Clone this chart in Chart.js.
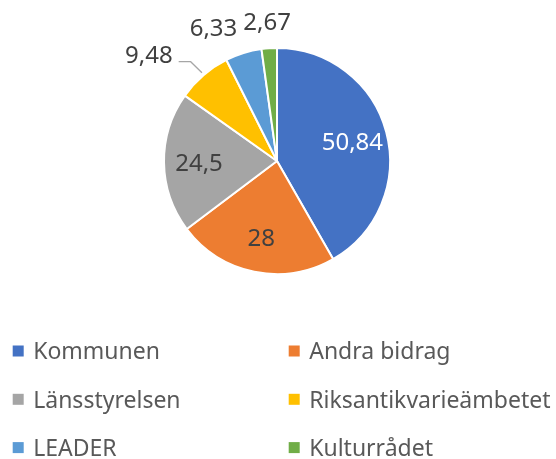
<!DOCTYPE html>
<html>
<head>
<meta charset="utf-8">
<script src="https://cdn.jsdelivr.net/npm/chart.js@4/dist/chart.umd.min.js"></script>
<style>
  html, body { margin: 0; padding: 0; background: #fff; }
  #wrap { position: relative; width: 556px; height: 459px; }
</style>
</head>
<body>
<div id="wrap"><canvas id="c" width="556" height="459"></canvas></div>
<script>
const categories = ["Kommunen", "Andra bidrag", "Länsstyrelsen", "Riksantikvarieämbetet", "LEADER", "Kulturrådet"];
const values = [50.84, 28, 24.5, 9.48, 6.33, 2.67];
const colors = ["#4472C4", "#ED7D31", "#A5A5A5", "#FFC000", "#5B9BD5", "#70AD47"];

const FONT = '"Noto Sans", "DejaVu Sans", sans-serif';
const fmt = v => String(v).replace('.', ',');

function brightness(hex) {
  const n = parseInt(hex.slice(1), 16);
  const r = (n >> 16) & 255, g = (n >> 8) & 255, b = n & 255;
  return (0.299 * r + 0.587 * g + 0.114 * b) / 255;
}

const labelPlugin = {
  id: 'pieLabels',
  afterDatasetsDraw(chart) {
    const ctx = chart.ctx;
    const meta = chart.getDatasetMeta(0);
    const data = chart.data.datasets[0].data;
    const total = data.reduce((a, b) => a + b, 0);
    const size = 24;
    ctx.save();
    ctx.font = size + 'px ' + FONT;
    ctx.textAlign = 'center';
    ctx.textBaseline = 'alphabetic';
    const outside = [];
    meta.data.forEach((arc, i) => {
      const a = (arc.startAngle + arc.endAngle) / 2;
      const dx = Math.cos(a), dy = Math.sin(a);
      const r = arc.outerRadius;
      const text = fmt(data[i]);
      if (data[i] / total > 0.1) {
        const x = arc.x + dx * r * 0.69, y = arc.y + dy * r * 0.69;
        ctx.fillStyle = brightness(colors[i]) < 0.5 ? '#FFFFFF' : '#404040';
        ctx.fillText(text, x, y + 0.357 * size);
      } else {
        const w = ctx.measureText(text).width;
        const ex = arc.x + dx * r, ey = arc.y + dy * r;
        const x = ex + dx * 25 + Math.sign(dx) * 1.9 * w * dx * dx;
        const y = ey + dy * 27;
        outside.push({ i, text, w, x, y, ex, ey });
      }
    });
    const h = size * 0.85;
    const placed = [];
    for (let k = outside.length - 1; k >= 0; k--) {
      const L = outside[k];
      for (const P of placed) {
        const vOverlap = Math.abs(L.y - P.y) < h;
        const left = L.x - L.w / 2, right = L.x + L.w / 2;
        const pl = P.x - P.w / 2, pr = P.x + P.w / 2;
        if (vOverlap && right + 4 > pl && left < pr + 4) {
          L.x = pl - 6 - L.w / 2;
        }
      }
      placed.push(L);
    }
    outside.forEach(L => {
      const right = L.x + L.w / 2, bottom = L.y + h / 2;
      const nx = Math.min(Math.max(L.ex, L.x - L.w / 2), right);
      const ny = Math.min(Math.max(L.ey, L.y - h / 2), bottom);
      const dist = Math.hypot(L.ex - nx, L.ey - ny);
      if (dist > 20) {
        ctx.strokeStyle = '#A6A6A6';
        ctx.lineWidth = 1.3;
        ctx.beginPath();
        const sx = right + 6, sy = L.y + 7;
        ctx.moveTo(sx, sy);
        ctx.lineTo(sx + 12, sy);
        ctx.lineTo(L.ex - 1.5, L.ey - 2.5);
        ctx.stroke();
      }
      ctx.fillStyle = '#404040';
      ctx.fillText(L.text, L.x, L.y + 0.357 * size);
    });
    ctx.restore();
  }
};

const legendPlugin = {
  id: 'gridLegend',
  afterDraw(chart) {
    const ctx = chart.ctx;
    const labels = chart.data.labels;
    const cols = [12.7, 288.7];
    const rowTop = 351, rowGap = 48.3;
    const size = 23;
    ctx.save();
    ctx.font = size + 'px ' + FONT;
    ctx.textAlign = 'left';
    ctx.textBaseline = 'alphabetic';
    labels.forEach((lab, i) => {
      const c = i % 2, r = Math.floor(i / 2);
      const x = cols[c], y = rowTop + r * rowGap;
      ctx.fillStyle = colors[i];
      ctx.fillRect(x, y - 5.5, 11, 11);
      ctx.fillStyle = '#595959';
      ctx.fillText(lab, x + 20.5, y + 0.357 * size);
    });
    ctx.restore();
  }
};

new Chart(document.getElementById('c'), {
  type: 'pie',
  data: {
    labels: categories,
    datasets: [{
      data: values,
      backgroundColor: colors,
      borderColor: '#FFFFFF',
      borderWidth: 2,
      hoverOffset: 0
    }]
  },
  options: {
    responsive: false,
    animation: false,
    radius: 113,
    layout: { padding: { left: 0, right: 2, top: 0, bottom: 137 } },
    plugins: {
      legend: { display: false },
      tooltip: { enabled: false }
    }
  },
  plugins: [labelPlugin, legendPlugin]
});
</script>
</body>
</html>
